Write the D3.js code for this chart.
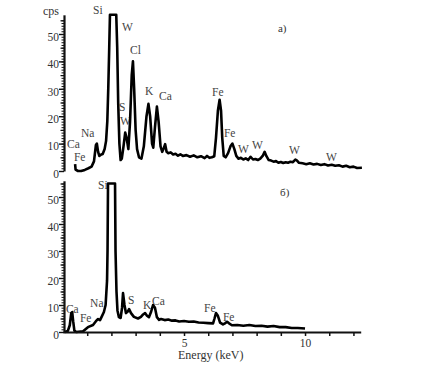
<!DOCTYPE html>
<html>
<head>
<meta charset="utf-8">
<script src="https://cdn.jsdelivr.net/npm/d3@7"></script>
<style>
  body { margin: 0; background: #fff; }
  text { font-family: "Liberation Serif", "DejaVu Serif", serif; }
</style>
</head>
<body>
<svg id="chart"></svg>
<script>
// spectrum a) (top)
const topEnergy = [0.50, 0.52, 0.62, 0.75, 0.90, 1.05, 1.18, 1.28, 1.36, 1.40, 1.45, 1.50, 1.58, 1.64, 1.72, 1.78, 1.83, 1.87, 1.91, 1.94,
  2.20, 2.24, 2.28, 2.33, 2.38, 2.43, 2.50, 2.57, 2.63, 2.70, 2.77, 2.84, 2.89, 2.94, 3.00, 3.06, 3.14, 3.24, 3.34, 3.45,
  3.53, 3.60, 3.68, 3.73, 3.80, 3.88, 3.95, 4.03, 4.10, 4.17, 4.22, 4.28, 4.35, 4.45, 4.55, 4.65, 4.75, 4.85, 4.95, 5.10,
  5.25, 5.40, 5.55, 5.70, 5.85, 5.95, 6.05, 6.15, 6.25, 6.32, 6.40, 6.47, 6.53, 6.58, 6.64, 6.72, 6.82, 6.92, 7.00, 7.08,
  7.16, 7.25, 7.35, 7.45, 7.55, 7.65, 7.75, 7.85, 7.95, 8.05, 8.15, 8.25, 8.33, 8.40, 8.50, 8.60, 8.70, 8.80, 8.90, 9.00,
  9.10, 9.20, 9.30, 9.40, 9.50, 9.60, 9.67, 9.75, 9.90, 10.05, 10.2, 10.35, 10.5, 10.65, 10.8, 10.95, 11.1, 11.25, 11.4, 11.55,
  11.7, 11.85, 12.0, 12.15, 12.35];
const topCps = [2.5, 0.5, 0, 0, 0.4, 1.0, 1.6, 3.5, 9.5, 10, 7, 5.5, 6, 6.2, 8, 11, 18, 30, 45, 57,
  57, 45, 25, 10, 4, 4.5, 9, 14, 12, 8, 18, 35, 40, 30, 15, 8, 5, 4.5, 9, 20,
  24.5, 20, 10, 8.5, 16, 23.5, 18, 9, 7, 8.5, 9.8, 7, 6.5, 6.8, 6, 6.3, 5.6, 6.1, 5.5, 5.8,
  5.2, 5.7, 5.0, 5.4, 4.7, 5.5, 4.8, 5.0, 5.4, 12, 22, 26, 22, 12, 5.5, 5, 6.5, 9, 10, 8,
  5.5, 4.5, 4.8, 4.2, 4.6, 4.0, 5.2, 4.2, 4.4, 4.0, 4.5, 5.5, 7, 5.5, 4.0, 3.8, 3.4, 3.6, 3.0, 3.3,
  2.9, 3.2, 3.0, 3.4, 3.2, 4.2, 3.8, 3.0, 2.8, 2.5, 2.8, 2.4, 2.6, 2.2, 2.5, 2.0, 2.3, 1.9, 2.1, 1.6,
  1.9, 1.4, 1.6, 1.1, 1.2];

// spectrum б) (bottom)
const bottomEnergy = [0.08, 0.20, 0.28, 0.34, 0.38, 0.42, 0.47, 0.55, 0.83, 1.03, 1.24, 1.36, 1.45, 1.53, 1.61, 1.69, 1.76, 1.82, 1.84, 1.86,
  2.15, 2.17, 2.21, 2.25, 2.31, 2.38, 2.44, 2.48, 2.54, 2.60, 2.67, 2.73, 2.81, 2.93, 3.10, 3.22, 3.31, 3.39, 3.47, 3.55,
  3.64, 3.72, 3.80, 3.88, 3.97, 4.05, 4.20, 4.35, 4.50, 4.65, 4.80, 5.00, 5.20, 5.40, 5.60, 5.80, 6.00, 6.20, 6.26, 6.32,
  6.40, 6.49, 6.61, 6.69, 6.78, 6.86, 6.98, 7.20, 7.45, 7.70, 7.95, 8.20, 8.45, 8.70, 8.95, 9.20, 9.45, 9.70, 10.0];
const bottomCps = [0, 0.4, 2.5, 7, 7.4, 4, 0.5, 0, 0.3, 1.8, 2.6, 4, 4.8, 4.4, 5.9, 7.4, 10, 19, 30, 55,
  55, 30, 15, 8, 5.5, 5.2, 9, 14.4, 10, 7, 7.5, 8.5, 7, 5.6, 5, 5.6, 6.5, 7, 6, 5.5,
  7.5, 10, 9, 5.5, 4.5, 4.8, 4.4, 4.6, 4.2, 4.3, 3.9, 4.1, 3.8, 3.9, 3.5, 3.4, 3.3, 3.2, 5, 7,
  6, 3.5, 2.8, 3.2, 3.8, 3.2, 2.5, 2.6, 2.3, 2.6, 2.2, 2.3, 2.0, 2.2, 1.8, 1.8, 1.5, 1.5, 1.3];

// peak labels: text, energy (keV), cps of the text baseline
const topLabelText = ["Si", "W", "Cl", "K", "Ca", "S", "W", "Na", "Ca", "Fe", "Fe", "Fe", "W", "W", "W", "W"];
const topLabelE = [1.24, 2.44, 2.77, 3.39, 3.97, 2.31, 2.36, 0.74, 0.17, 0.45, 6.16, 6.65, 7.23, 7.81, 9.34, 10.87];
const topLabelCps = [57.3, 51.1, 42.7, 27.7, 25.9, 22.0, 16.8, 12.4, 8.4, 3.6, 27.4, 12.4, 6.6, 8.0, 6.2, 3.6];

const bottomLabelText = ["Si", "Ca", "Fe", "Na", "S", "K", "Ca", "Fe", "Fe"];
const bottomLabelE = [1.45, 0.12, 0.70, 1.12, 2.69, 3.31, 3.68, 5.83, 6.61];
const bottomLabelCps = [53, 7.0, 3.7, 9.3, 10.4, 8.5, 10, 7.4, 4.1];

const majorTicks = [0, 10, 20, 30, 40, 50];
const energyTicks = d3.range(1, 13);
const energyLabels = [5, 10];

const width = 429, height = 369;
const svg = d3.select("#chart").attr("width", width).attr("height", height);

const x = d3.scaleLinear().domain([0, 12.3]).range([63, 360.7]);
const yTop = d3.scaleLinear().domain([0, 57]).range([171, 171 - 57 * 2.74]);
const yBot = d3.scaleLinear().domain([0, 56]).range([332, 332 - 56 * 2.7]);

function drawPanel(y, energy, cps, labText, labE, labCps, panelName, panelE, panelCps) {
  // minor ticks
  svg.append("g")
    .attr("transform", "translate(64,0)")
    .call(d3.axisLeft(y).tickValues(d3.range(0, 56)).tickSize(2.5).tickFormat(""))
    .call(g => g.select(".domain").remove())
    .call(g => g.selectAll("line").attr("stroke", "#111").attr("stroke-width", 1));
  svg.append("g")
    .attr("transform", "translate(64,0)")
    .call(d3.axisLeft(y).tickValues(d3.range(5, 56, 10)).tickSize(3.5).tickFormat(""))
    .call(g => g.select(".domain").remove())
    .call(g => g.selectAll("line").attr("stroke", "#111").attr("stroke-width", 1.2));
  // major ticks with labels
  const ax = svg.append("g")
    .attr("transform", "translate(64,0)")
    .call(d3.axisLeft(y).tickValues(majorTicks).tickSize(5).tickSizeOuter(0).tickPadding(0));
  ax.select(".domain").attr("stroke", "#111").attr("stroke-width", 2.2);
  ax.selectAll("line").attr("stroke", "#111").attr("stroke-width", 1.4);
  ax.selectAll("text")
    .attr("font-size", 11.5)
    .attr("fill", "#333")
    .attr("dy", "0.55em")
    .style("font-family", "Liberation Serif");

  svg.selectAll(null)
    .data(labText.map((t, i) => ({ t, e: labE[i], c: labCps[i] })))
    .enter()
    .append("text")
    .attr("x", d => x(d.e))
    .attr("y", d => y(d.c))
    .attr("font-size", 11.5)
    .attr("fill", "#444")
    .text(d => d.t);

  const line = d3.line().x(d => x(d[0])).y(d => y(d[1]));
  svg.append("path")
    .datum(energy.map((e, i) => [e, cps[i]]))
    .attr("d", line)
    .attr("fill", "none")
    .attr("stroke", "#000")
    .attr("stroke-width", 2.6)
    .attr("stroke-linejoin", "round");

  svg.append("text")
    .attr("x", x(panelE))
    .attr("y", y(panelCps))
    .attr("font-size", 11)
    .attr("fill", "#333")
    .text(panelName);
}

drawPanel(yTop, topEnergy, topCps, topLabelText, topLabelE, topLabelCps, "а)", 8.88, 50.7);
drawPanel(yBot, bottomEnergy, bottomCps, bottomLabelText, bottomLabelE, bottomLabelCps, "б)", 8.97, 50.4);

// energy axis under bottom panel
const xa = svg.append("g")
  .attr("transform", "translate(0," + yBot(0) + ")")
  .call(d3.axisBottom(x).tickValues(energyTicks).tickSize(4).tickSizeOuter(0)
    .tickFormat(d => energyLabels.includes(d) ? d : ""));
xa.select(".domain").attr("stroke", "#111").attr("stroke-width", 1.8);
xa.selectAll("line").attr("stroke", "#111").attr("stroke-width", 1.5);
xa.selectAll("text").attr("font-size", 11.5).attr("fill", "#333").style("font-family", "Liberation Serif");

svg.append("text")
  .attr("x", 178)
  .attr("y", 359)
  .attr("font-size", 12)
  .attr("fill", "#333")
  .text("Energy (keV)");

svg.append("text")
  .attr("x", 43)
  .attr("y", 15)
  .attr("font-size", 12)
  .attr("fill", "#333")
  .text("cps");
</script>
</body>
</html>
